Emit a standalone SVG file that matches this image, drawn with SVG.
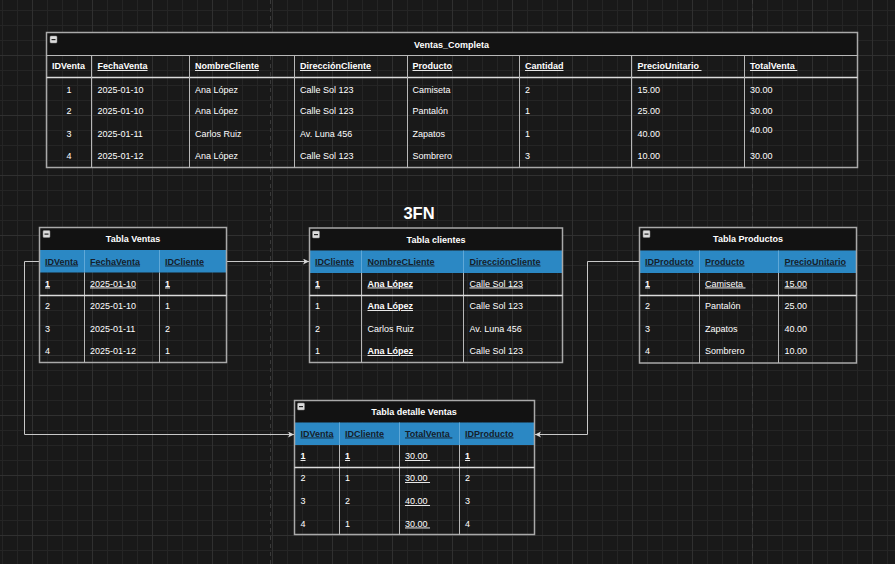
<svg xmlns="http://www.w3.org/2000/svg" width="895" height="564" viewBox="0 0 895 564">
<defs>
<style>
.t{font-family:"Liberation Sans",Arial,sans-serif;font-size:9px;fill:#ffffff}
.b{font-weight:bold}
.u{text-decoration:underline}
.m{text-anchor:middle}
.hd{font-family:"Liberation Sans",Arial,sans-serif;font-size:9px;font-weight:bold;text-decoration:underline;fill:#15202b}
.ttl{font-family:"Liberation Sans",Arial,sans-serif;font-size:9px;font-weight:bold;fill:#ffffff;text-anchor:middle}
.frame{fill:none;stroke:#a9a9a9;stroke-width:1.5}
.tbar{fill:#121212}
.hbar{fill:#2b88c4}
.div{stroke:#b8b8b8;stroke-width:1}
.sep{stroke:#dcdcdc;stroke-width:1.3}
.conn{fill:none;stroke:#c8c8c8;stroke-width:1}
</style>
<pattern id="grid" x="32" y="55" width="60" height="60" patternUnits="userSpaceOnUse">
<path d="M15.5 0V60M30.5 0V60M45.5 0V60M0 15.5H60M0 30.5H60M0 45.5H60" stroke="#252525" stroke-width="1" fill="none"/>
<path d="M0.5 0V60M0 0.5H60" stroke="#303030" stroke-width="1" fill="none"/>
</pattern>
<marker id="arr" markerWidth="8" markerHeight="8" refX="6" refY="3" orient="auto" markerUnits="userSpaceOnUse">
<path d="M0,0 L6,3 L0,6 L1.5,3 Z" fill="#d8d8d8"/>
</marker>
<g id="minus">
<rect x="0" y="0" width="7" height="7" rx="1" fill="#dcdcdc" stroke="#8a8a8a" stroke-width="0.5"/>
<rect x="1.5" y="3" width="4" height="1.2" fill="#222"/>
</g>
</defs>

<rect width="895" height="564" fill="#191919"/>
<rect width="895" height="564" fill="url(#grid)"/>
<path d="M270.5 0V564M752.5 0V564" stroke="#3a3a3a" stroke-width="1" stroke-dasharray="4 4" fill="none"/>

<!-- Top table -->
<g id="ventas_completa">
<rect class="tbar" x="46.5" y="32.5" width="811" height="23"/>
<rect class="frame" x="46.5" y="32.5" width="811" height="135"/>
<use href="#minus" x="50" y="36"/>
<text class="ttl" x="451.5" y="47.5">Ventas_Completa</text>
<line class="div" x1="46.5" y1="55.5" x2="857.5" y2="55.5"/>
<line class="sep" x1="46.5" y1="77.5" x2="857.5" y2="77.5" stroke-width="1.8"/>
<path class="div" d="M91.5 55.5V167.5M189.5 55.5V167.5M294.5 55.5V167.5M407.5 55.5V167.5M519.5 55.5V167.5M631.5 55.5V167.5M744.5 55.5V167.5"/>
<text class="t b" x="52" y="69">IDVenta</text>
<text class="t b u" x="97.5" y="69">FechaVenta</text>
<text class="t b u" x="195" y="69">NombreCliente</text>
<text class="t b u" x="300" y="69">DirecciónCliente</text>
<text class="t b u" x="412.5" y="69">Producto</text>
<text class="t b u" x="525" y="69">Cantidad</text>
<text class="t b u" x="637.5" y="69">PrecioUnitario&#160;</text>
<text class="t b u" x="750" y="69">TotalVenta&#160;</text>

<text class="t m" x="69" y="92.5">1</text>
<text class="t" x="97.5" y="92.5">2025-01-10</text>
<text class="t" x="195" y="92.5">Ana López</text>
<text class="t" x="300" y="92.5">Calle Sol 123</text>
<text class="t" x="412.5" y="92.5">Camiseta</text>
<text class="t" x="525" y="92.5">2</text>
<text class="t" x="637.5" y="92.5">15.00</text>
<text class="t" x="750" y="92.5">30.00</text>

<text class="t m" x="69" y="114">2</text>
<text class="t" x="97.5" y="114">2025-01-10</text>
<text class="t" x="195" y="114">Ana López</text>
<text class="t" x="300" y="114">Calle Sol 123</text>
<text class="t" x="412.5" y="114">Pantalón</text>
<text class="t" x="525" y="114">1</text>
<text class="t" x="637.5" y="114">25.00</text>
<text class="t" x="750" y="114">30.00</text>

<text class="t m" x="69" y="136.5">3</text>
<text class="t" x="97.5" y="136.5">2025-01-11</text>
<text class="t" x="195" y="136.5">Carlos Ruiz</text>
<text class="t" x="300" y="136.5">Av. Luna 456</text>
<text class="t" x="412.5" y="136.5">Zapatos</text>
<text class="t" x="525" y="136.5">1</text>
<text class="t" x="637.5" y="136.5">40.00</text>
<text class="t" x="750" y="132.5">40.00</text>

<text class="t m" x="69" y="159">4</text>
<text class="t" x="97.5" y="159">2025-01-12</text>
<text class="t" x="195" y="159">Ana López</text>
<text class="t" x="300" y="159">Calle Sol 123</text>
<text class="t" x="412.5" y="159">Sombrero</text>
<text class="t" x="525" y="159">3</text>
<text class="t" x="637.5" y="159">10.00</text>
<text class="t" x="750" y="159">30.00</text>
</g>

<text x="419" y="218.5" font-family="Liberation Sans, Arial, sans-serif" font-size="16.5" font-weight="bold" fill="#ffffff" text-anchor="middle">3FN</text>

<!-- Connectors -->
<g id="connectors">
<path class="conn" d="M226.5 261.5H309" marker-end="url(#arr)"/>
<path class="conn" d="M39.5 261.5H24.5V434.5H294" marker-end="url(#arr)"/>
<path class="conn" d="M639.5 261.5H587.5V434.5H535" marker-end="url(#arr)"/>
</g>

<!-- Tabla Ventas -->
<g id="tabla_ventas">
<rect class="tbar" x="39.5" y="227.5" width="187" height="22.5"/>
<rect class="hbar" x="39.5" y="250" width="187" height="22.5"/>
<rect class="frame" x="39.5" y="227.5" width="187" height="135"/>
<use href="#minus" x="43" y="230.5"/>
<text class="ttl" x="133" y="242">Tabla Ventas</text>
<path d="M84.5 250V272.5M159.5 250V272.5" stroke="#5fa8d8" stroke-width="1"/>
<path class="div" d="M84.5 272.5V362.5M159.5 272.5V362.5"/>
<line class="sep" x1="39.5" y1="295.5" x2="226.5" y2="295.5"/>
<text class="hd" x="45" y="264.5">IDVenta</text>
<text class="hd" x="90" y="264.5">FechaVenta</text>
<text class="hd" x="165" y="264.5">IDCliente</text>
<text class="t b u" x="45" y="286.5">1</text>
<text class="t u" x="90" y="286.5">2025-01-10</text>
<text class="t b u" x="165" y="286.5">1</text>
<text class="t" x="45" y="309">2</text>
<text class="t" x="90" y="309">2025-01-10</text>
<text class="t" x="165" y="309">1</text>
<text class="t" x="45" y="331.5">3</text>
<text class="t" x="90" y="331.5">2025-01-11</text>
<text class="t" x="165" y="331.5">2</text>
<text class="t" x="45" y="354">4</text>
<text class="t" x="90" y="354">2025-01-12</text>
<text class="t" x="165" y="354">1</text>
</g>

<!-- Tabla clientes -->
<g id="tabla_clientes">
<rect class="tbar" x="309.5" y="228" width="253" height="22.5"/>
<rect class="hbar" x="309.5" y="250.5" width="253" height="22.5"/>
<rect class="frame" x="309.5" y="228" width="253" height="134.5"/>
<use href="#minus" x="312.5" y="231"/>
<text class="ttl" x="436" y="242.5">Tabla clientes</text>
<path d="M361.5 250.5V273M463.5 250.5V273" stroke="#5fa8d8" stroke-width="1"/>
<path class="div" d="M361.5 273V362.5M463.5 273V362.5"/>
<line class="sep" x1="309.5" y1="295.5" x2="562.5" y2="295.5"/>
<text class="hd" x="315" y="264.5">IDCliente</text>
<text class="hd" x="367.5" y="264.5">NombreCLiente</text>
<text class="hd" x="469.5" y="264.5">DirecciónCliente</text>
<text class="t b u" x="315" y="286.5">1</text>
<text class="t b u" x="367.5" y="286.5">Ana López</text>
<text class="t u" x="469.5" y="286.5">Calle Sol 123</text>
<text class="t" x="315" y="309">1</text>
<text class="t b u" x="367.5" y="309">Ana López</text>
<text class="t" x="469.5" y="309">Calle Sol 123</text>
<text class="t" x="315" y="331.5">2</text>
<text class="t" x="367.5" y="331.5">Carlos Ruiz</text>
<text class="t" x="469.5" y="331.5">Av. Luna 456</text>
<text class="t" x="315" y="354">1</text>
<text class="t b u" x="367.5" y="354">Ana López</text>
<text class="t" x="469.5" y="354">Calle Sol 123</text>
</g>

<!-- Tabla Productos -->
<g id="tabla_productos">
<rect class="tbar" x="639.5" y="227.5" width="217" height="23"/>
<rect class="hbar" x="639.5" y="250.5" width="217" height="22.5"/>
<rect class="frame" x="639.5" y="227.5" width="217" height="135.5"/>
<use href="#minus" x="643" y="230.5"/>
<text class="ttl" x="748" y="242">Tabla Productos</text>
<path d="M699.5 250.5V273M778.5 250.5V273" stroke="#5fa8d8" stroke-width="1"/>
<path class="div" d="M699.5 273V363M778.5 273V363"/>
<line class="sep" x1="639.5" y1="295.5" x2="856.5" y2="295.5"/>
<text class="hd" x="645" y="264.5">IDProducto</text>
<text class="hd" x="705" y="264.5">Producto</text>
<text class="hd" x="784.5" y="264.5">PrecioUnitario</text>
<text class="t b u" x="645" y="286.5">1</text>
<text class="t u" x="705" y="286.5">Camiseta&#160;</text>
<text class="t u" x="784.5" y="286.5">15.00</text>
<text class="t" x="645" y="309">2</text>
<text class="t" x="705" y="309">Pantalón</text>
<text class="t" x="784.5" y="309">25.00</text>
<text class="t" x="645" y="331.5">3</text>
<text class="t" x="705" y="331.5">Zapatos</text>
<text class="t" x="784.5" y="331.5">40.00</text>
<text class="t" x="645" y="354">4</text>
<text class="t" x="705" y="354">Sombrero</text>
<text class="t" x="784.5" y="354">10.00</text>
</g>

<!-- Tabla detalle Ventas -->
<g id="tabla_detalle_ventas">
<rect class="tbar" x="294.5" y="400.5" width="240" height="22"/>
<rect class="hbar" x="294.5" y="422.5" width="240" height="22.5"/>
<rect class="frame" x="294.5" y="400.5" width="240" height="134"/>
<use href="#minus" x="297.5" y="403"/>
<text class="ttl" x="414" y="414.5">Tabla detalle Ventas</text>
<path d="M339.5 422.5V445M399.5 422.5V445M459.5 422.5V445" stroke="#5fa8d8" stroke-width="1"/>
<path class="div" d="M339.5 445V534.5M399.5 445V534.5M459.5 445V534.5"/>
<line class="sep" x1="294.5" y1="467.5" x2="534.5" y2="467.5"/>
<text class="hd" x="300.5" y="436.5">IDVenta</text>
<text class="hd" x="345" y="436.5">IDCliente</text>
<text class="hd" x="405" y="436.5">TotalVenta&#160;</text>
<text class="hd" x="465" y="436.5">IDProducto</text>
<text class="t b u" x="300.5" y="459">1</text>
<text class="t b u" x="345" y="459">1</text>
<text class="t u" x="405" y="459">30.00&#160;</text>
<text class="t b u" x="465" y="459">1</text>
<text class="t" x="300.5" y="481">2</text>
<text class="t" x="345" y="481">1</text>
<text class="t u" x="405" y="481">30.00&#160;</text>
<text class="t" x="465" y="481">2</text>
<text class="t" x="300.5" y="504">3</text>
<text class="t" x="345" y="504">2</text>
<text class="t u" x="405" y="504">40.00&#160;</text>
<text class="t" x="465" y="504">3</text>
<text class="t" x="300.5" y="526.5">4</text>
<text class="t" x="345" y="526.5">1</text>
<text class="t u" x="405" y="526.5">30.00&#160;</text>
<text class="t" x="465" y="526.5">4</text>
</g>
</svg>
